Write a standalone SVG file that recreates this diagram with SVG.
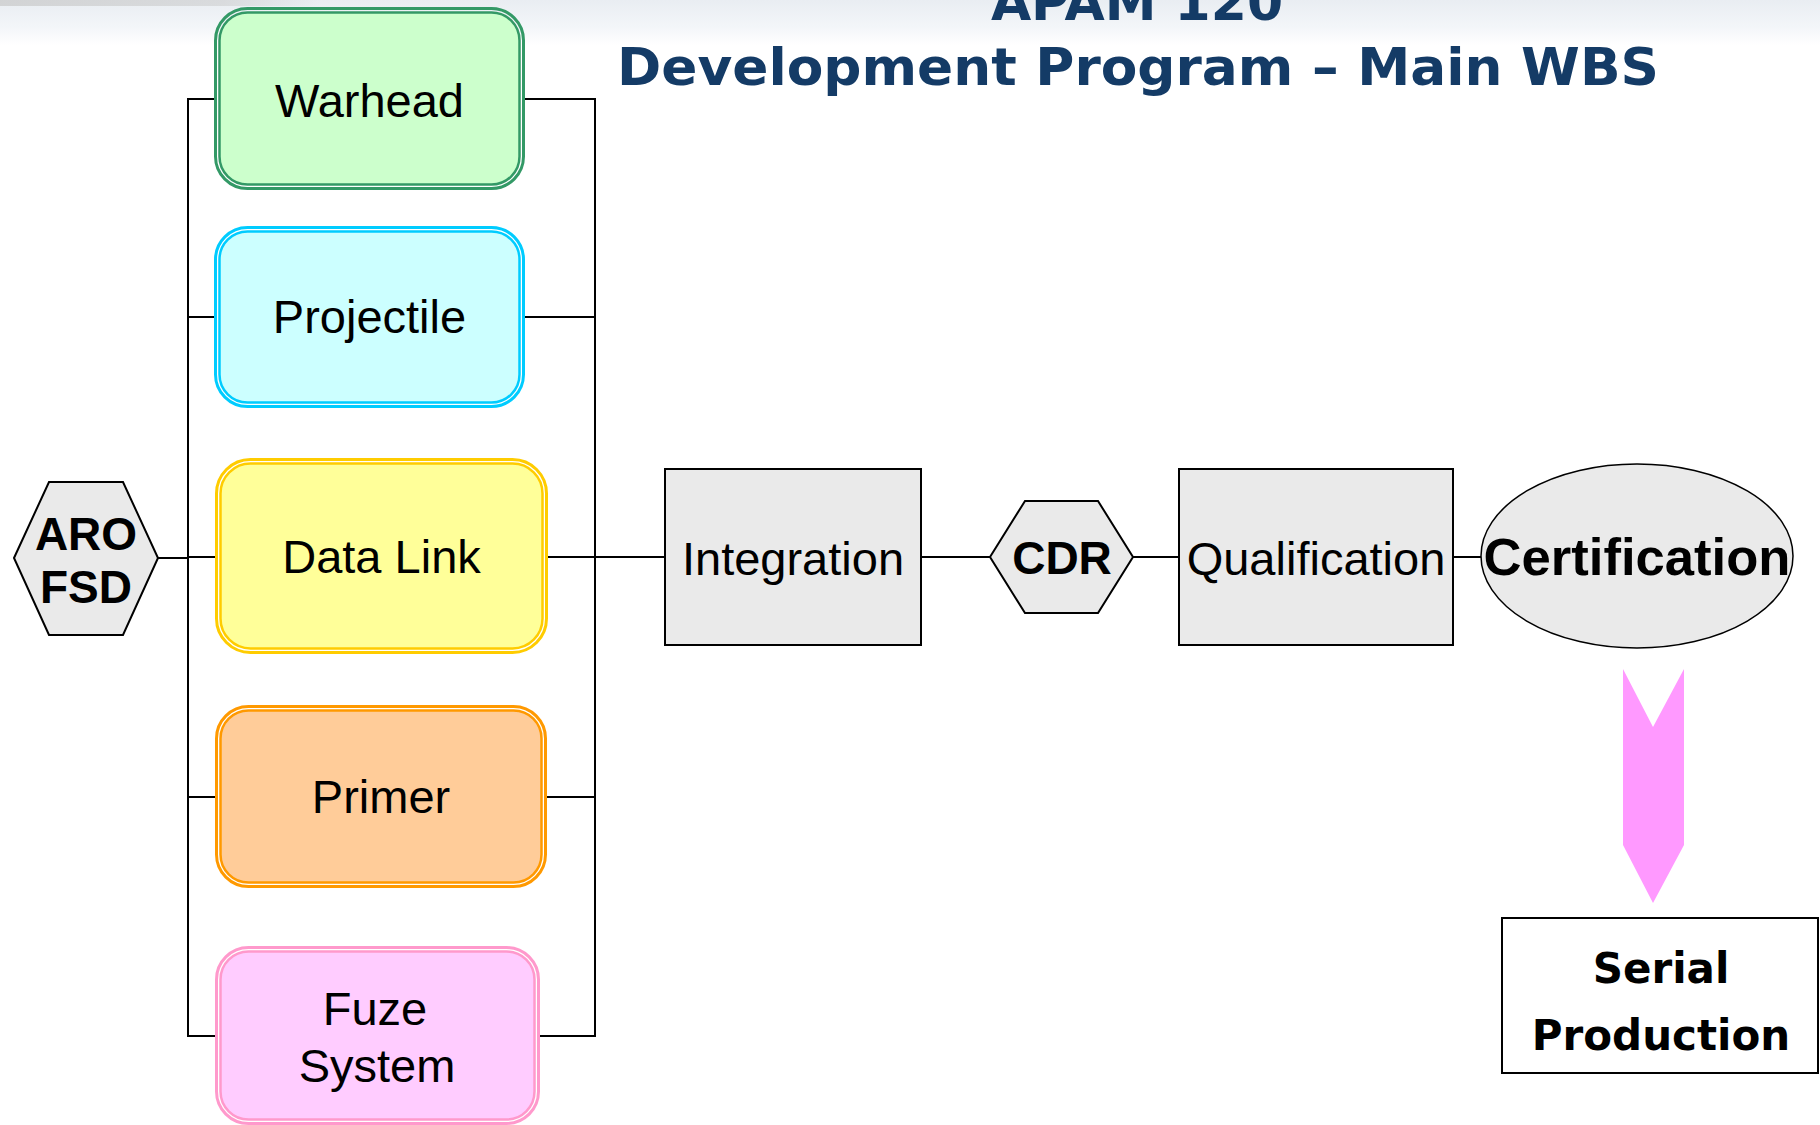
<svg xmlns="http://www.w3.org/2000/svg" width="1820" height="1125" viewBox="0 0 1820 1125">
<defs>
<linearGradient id="topbg" x1="0" y1="0" x2="0" y2="1">
<stop offset="0" stop-color="#E9EDF2"/>
<stop offset="0.6" stop-color="#F3F6F9"/>
<stop offset="1" stop-color="#FFFFFF"/>
</linearGradient>
<linearGradient id="shadow" x1="0" y1="0" x2="1" y2="0">
<stop offset="0" stop-color="#C8C8C8" stop-opacity="0.7"/>
<stop offset="0.7" stop-color="#C8C8C8" stop-opacity="0.5"/>
<stop offset="1" stop-color="#C8C8C8" stop-opacity="0"/>
</linearGradient>
</defs>
<style>
.lbl{font-family:"Liberation Sans",Arial,sans-serif;font-size:47px;fill:#000;text-anchor:middle}
.bold{font-family:"Liberation Sans",Arial,sans-serif;font-weight:bold;fill:#000;text-anchor:middle}
.vb{font-family:"DejaVu Sans",Verdana,sans-serif;font-weight:bold;text-anchor:middle}
.gray{fill:#EAEAEA;stroke:#000;stroke-width:2}
.conn line{stroke:#000;stroke-width:2}
</style>
<rect x="0" y="0" width="1820" height="1125" fill="#FFFFFF"/>
<rect x="0" y="0" width="1820" height="45" fill="url(#topbg)"/>
<rect x="0" y="0" width="320" height="6" fill="url(#shadow)"/>

<g id="title">
<text class="vb" x="1137" y="20" font-size="52" fill="#143B66">APAM 120</text>
<text class="vb" x="1138" y="85" font-size="52" fill="#143B66" textLength="1042" lengthAdjust="spacingAndGlyphs">Development Program – Main WBS</text>
</g>

<g id="connectors" class="conn">
<line x1="188" y1="99" x2="188" y2="1036"/>
<line x1="595" y1="99" x2="595" y2="1036"/>
<line x1="158" y1="558" x2="188" y2="558"/>
<line x1="187" y1="99" x2="214" y2="99"/>
<line x1="525" y1="99" x2="596" y2="99"/>
<line x1="187" y1="317" x2="214" y2="317"/>
<line x1="525" y1="317" x2="596" y2="317"/>
<line x1="188" y1="557" x2="215" y2="557"/>
<line x1="548" y1="557" x2="665" y2="557"/>
<line x1="187" y1="797" x2="215" y2="797"/>
<line x1="547" y1="797" x2="596" y2="797"/>
<line x1="187" y1="1036" x2="215" y2="1036"/>
<line x1="540" y1="1036" x2="596" y2="1036"/>
<line x1="921" y1="557" x2="990" y2="557"/>
<line x1="1133" y1="557" x2="1179" y2="557"/>
<line x1="1453" y1="557" x2="1481" y2="557"/>
</g>

<g id="aro-fsd">
<polygon class="gray" points="14,558 49,482 123,482 158,558 123,635 49,635"/>
<text class="bold" x="86" y="550" font-size="46">ARO</text>
<text class="bold" x="86" y="603" font-size="46">FSD</text>
</g>

<g id="warhead">
<rect x="215.5" y="8.5" width="308" height="180" rx="32" fill="none" stroke="#339966" stroke-width="3"/>
<rect x="219.5" y="12.5" width="300" height="172" rx="28" fill="#CCFFCC" stroke="#339966" stroke-width="2.5"/>
<text class="lbl" x="369.5" y="117">Warhead</text>
</g>

<g id="projectile">
<rect x="215.5" y="227.5" width="308" height="179" rx="32" fill="none" stroke="#00CCFF" stroke-width="3"/>
<rect x="219.5" y="231.5" width="300" height="171" rx="28" fill="#CCFFFF" stroke="#00CCFF" stroke-width="2.5"/>
<text class="lbl" x="369.5" y="333">Projectile</text>
</g>

<g id="data-link">
<rect x="216.5" y="459.5" width="330" height="193" rx="34" fill="none" stroke="#FFCC00" stroke-width="3"/>
<rect x="220.5" y="463.5" width="322" height="185" rx="30" fill="#FFFF99" stroke="#FFCC00" stroke-width="2.5"/>
<text class="lbl" x="381.5" y="573">Data Link</text>
</g>

<g id="primer">
<rect x="216.5" y="706.5" width="329" height="180" rx="32" fill="none" stroke="#FF9900" stroke-width="3"/>
<rect x="220.5" y="710.5" width="321" height="172" rx="28" fill="#FFCC99" stroke="#FF9900" stroke-width="2.5"/>
<text class="lbl" x="381" y="813">Primer</text>
</g>

<g id="fuze-system">
<rect x="216.5" y="947.5" width="322" height="176" rx="32" fill="none" stroke="#FF99CC" stroke-width="3"/>
<rect x="220.5" y="951.5" width="314" height="168" rx="28" fill="#FFCCFF" stroke="#FF99CC" stroke-width="2.5"/>
<text class="lbl" x="375" y="1025">Fuze</text>
<text class="lbl" x="377" y="1082">System</text>
</g>

<g id="integration">
<rect class="gray" x="665" y="469" width="256" height="176"/>
<text class="lbl" x="793" y="575">Integration</text>
</g>

<g id="cdr">
<polygon class="gray" points="990,557 1025,501 1098,501 1133,557 1098,613 1025,613"/>
<text class="bold" x="1062" y="574" font-size="46">CDR</text>
</g>

<g id="qualification">
<rect class="gray" x="1179" y="469" width="274" height="176"/>
<text class="lbl" x="1316" y="575">Qualification</text>
</g>

<g id="certification">
<ellipse cx="1637" cy="556" rx="156" ry="92" fill="#EAEAEA" stroke="#000" stroke-width="1.5"/>
<text class="bold" x="1637" y="575" font-size="52" textLength="307" lengthAdjust="spacingAndGlyphs">Certification</text>
</g>

<g id="arrow">
<polygon points="1623,669 1653,727 1684,669 1684,845 1653,903 1623,845" fill="#FF99FF"/>
</g>

<g id="serial-production">
<rect x="1502" y="918" width="316" height="155" fill="#FFFFFF" stroke="#000" stroke-width="2"/>
<text class="vb" x="1661" y="983" font-size="42" fill="#000">Serial</text>
<text class="vb" x="1661" y="1050" font-size="42" fill="#000">Production</text>
</g>
</svg>
